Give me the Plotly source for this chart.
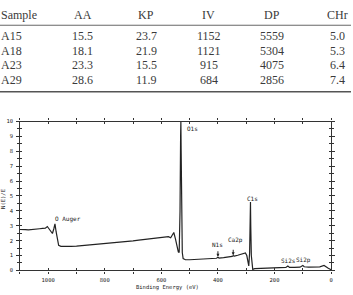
import plotly.graph_objects as go

# ---------------- table data ----------------
table_cols = ["Sample", "AA", "KP", "IV", "DP", "CHr"]
samples = ["A15", "A18", "A23", "A29"]
aa = ["15.5", "18.1", "23.3", "28.6"]
kp = ["23.7", "21.9", "15.5", "11.9"]
iv = ["1152", "1121", "915", "684"]
dp = ["5559", "5304", "4075", "2856"]
chr_ = ["5.0", "5.3", "6.4", "7.4"]

# ---------------- spectrum data ----------------
energy = [1100, 1090, 1080, 1070, 1060, 1050, 1040, 1030, 1020, 1010, 1003, 998, 990, 985,
          980, 976, 972, 967, 963, 955, 940, 920, 900, 880, 860, 840, 820, 800, 780, 760,
          740, 720, 700, 680, 660, 640, 620, 600, 585, 575, 567, 560, 556, 550, 545, 540,
          537, 534, 532, 531, 530, 528, 526, 523, 515, 500, 480, 460, 440, 420, 405, 400,
          396, 380, 360, 350, 346, 342, 330, 320, 310, 303, 298, 294, 291, 288, 286, 285,
          284, 282, 280, 277, 270, 250, 230, 200, 180, 160, 153, 147, 130, 110, 100, 95,
          80, 60, 40, 25, 20, 10, 5, 0]
intensity = [2.75, 2.72, 2.74, 2.73, 2.76, 2.77, 2.78, 2.80, 2.82, 2.84, 2.95, 2.80, 2.55, 2.48,
             2.80, 3.13, 2.60, 1.90, 1.68, 1.62, 1.60, 1.61, 1.63, 1.66, 1.70, 1.73, 1.75, 1.78, 1.82, 1.85,
             1.89, 1.94, 1.98, 2.03, 2.08, 2.13, 2.18, 2.22, 2.25, 2.27, 2.20, 2.45, 2.55, 2.10, 1.60, 1.25,
             1.20, 4.00, 9.00, 10.0, 8.00, 3.00, 1.20, 0.80, 0.72, 0.72, 0.74, 0.76, 0.78, 0.80, 0.82, 0.88,
             0.83, 0.86, 0.90, 0.94, 0.99, 0.96, 1.02, 1.08, 1.14, 1.18, 1.00, 0.50, 0.30, 1.20, 3.50, 4.60,
             3.00, 1.00, 0.20, 0.07, 0.12, 0.14, 0.15, 0.17, 0.18, 0.20, 0.30, 0.20, 0.20, 0.22, 0.33, 0.25,
             0.22, 0.23, 0.24, 0.33, 0.25, 0.15, 0.10, 0.05]

# peak labels (text, energy, intensity)
peak_labels = ["O Auger", "O1s", "C1s", "N1s", "Ca2p", "Si2s", "Si2p"]
peak_x = [982, 516, 277, 400, 337, 152, 96]
peak_y = [3.45, 9.5, 4.85, 1.72, 2.05, 0.7, 0.7]
peak_anchor = ["left", "left", "center", "center", "center", "center", "center"]
arrow_x = [400, 346]
arrow_y = [0.92, 1.02]

W, H = 353, 295
def px(x):
    return x / W
def py(y):
    return 1 - y / H

fig = go.Figure()
fig.add_trace(go.Scatter(x=energy, y=intensity, mode="lines",
                         line=dict(color="#222222", width=1.2), hoverinfo="skip",
                         showlegend=False))

tick_font = dict(family="DejaVu Sans Mono", size=5.5, color="#222222")
ax_common = dict(showgrid=False, zeroline=False, showline=True, linecolor="#333333",
                 linewidth=1.2, mirror="ticks", tickcolor="#333333", tickwidth=1)

fig.update_layout(
    width=W, height=H, margin=dict(l=0, r=0, t=0, b=0),
    paper_bgcolor="white", plot_bgcolor="white", showlegend=False,
    xaxis=dict(domain=[px(20), px(333)], range=[1100, 0], tickmode="linear", tick0=0, dtick=200,
               ticks="outside", ticklen=2.5, tickfont=tick_font, ticklabelstandoff=1,
               minor=dict(dtick=100, tick0=0, ticks="outside", ticklen=2.5, tickcolor="#333333"),
               anchor="y", **ax_common),
    yaxis=dict(domain=[py(273), py(121)], range=[0, 10], tickmode="linear", tick0=0, dtick=1,
               ticks="outside", ticklen=2.5, tickfont=tick_font, ticklabelstandoff=2,
               minor=dict(dtick=0.5, tick0=0, ticks="outside", ticklen=2, tickcolor="#333333"),
               anchor="x", **ax_common),
    xaxis2=dict(overlaying="x", matches="x", range=[1100, 0], showticklabels=False,
                tickmode="linear", tick0=0, dtick=100, ticks="inside", ticklen=2.5,
                anchor="y2", **ax_common),
    yaxis2=dict(overlaying="y", matches="y", range=[0, 10], showticklabels=False,
                tickmode="linear", tick0=0, dtick=0.5, ticks="inside", ticklen=2.5,
                anchor="x2", **ax_common),
)
fig.add_trace(go.Scatter(x=[None], y=[None], xaxis="x2", yaxis="y2", showlegend=False,
                         hoverinfo="skip"))

anns = []
label_font = dict(family="DejaVu Sans Mono", size=6, color="#222222")
for t, x, y, a in zip(peak_labels, peak_x, peak_y, peak_anchor):
    anns.append(dict(x=x, y=y, xref="x", yref="y", text=t, showarrow=False,
                     xanchor=a, yanchor="middle", font=label_font))
for x, y in zip(arrow_x, arrow_y):
    anns.append(dict(x=x, y=y, xref="x", yref="y", text="", showarrow=True,
                     arrowhead=2, arrowsize=0.6, arrowwidth=1, arrowcolor="#222222",
                     ax=0, ay=-7))
# axis titles
anns.append(dict(x=px(168), y=py(290), xref="paper", yref="paper", text="Binding Energy (eV)",
                 showarrow=False, xanchor="center", yanchor="middle",
                 font=dict(family="DejaVu Sans Mono", size=5.5, color="#222222")))
anns.append(dict(x=px(3), y=py(200), xref="paper", yref="paper", text="N(E)/E",
                 showarrow=False, xanchor="center", yanchor="middle", textangle=-90,
                 font=dict(family="DejaVu Sans Mono", size=5.5, color="#222222")))

# table
tfont = dict(family="Liberation Serif", size=12, color="#3a3a3a")
col_x = [-1, 83, 147, 210, 274, 339]
col_anchor = ["left", "center", "center", "center", "center", "center"]
header_y = 12.5
row_y = [33.5, 48.5, 63.5, 79]
columns = [samples, aa, kp, iv, dp, chr_]
for name, x, a in zip(table_cols, col_x, col_anchor):
    anns.append(dict(x=px(x), y=py(header_y), xref="paper", yref="paper", text=name,
                     showarrow=False, xanchor=a, yanchor="middle", font=tfont))
for col, x, a in zip(columns, col_x, col_anchor):
    for v, y in zip(col, row_y):
        anns.append(dict(x=px(x), y=py(y), xref="paper", yref="paper", text=v,
                         showarrow=False, xanchor=a, yanchor="middle", font=tfont))

fig.update_layout(annotations=anns, shapes=[
    dict(type="line", xref="paper", yref="paper", x0=0, x1=1, y0=py(22.7), y1=py(22.7),
         line=dict(color="#666666", width=1)),
    dict(type="line", xref="paper", yref="paper", x0=0, x1=1, y0=py(90.5), y1=py(90.5),
         line=dict(color="#555555", width=1.5)),
])

fig.write_html("out.html")
